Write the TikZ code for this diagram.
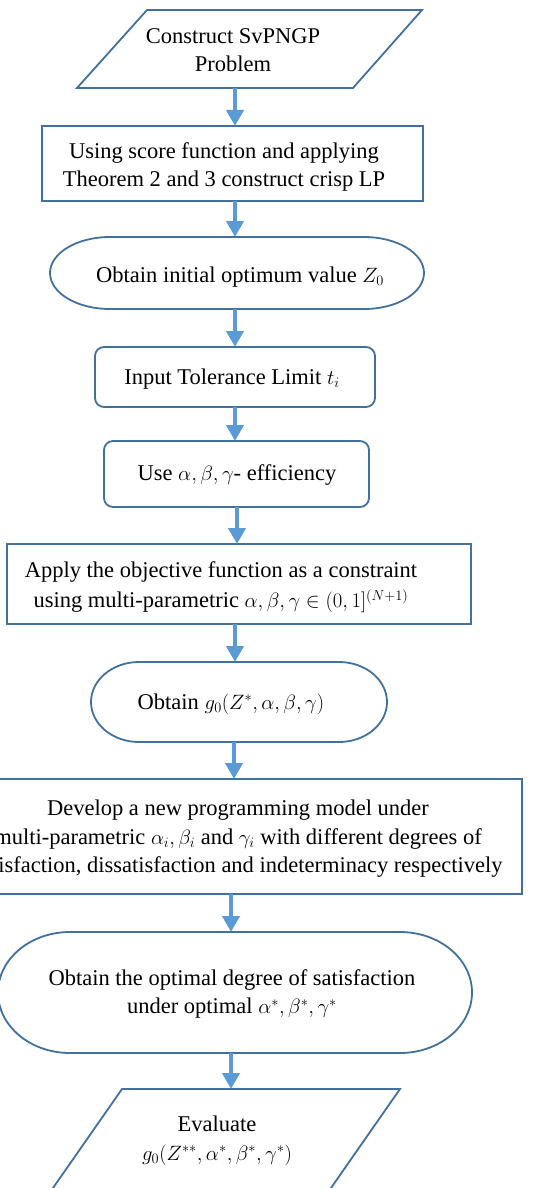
\documentclass[tikz,border=0pt]{standalone}
\usepackage{fontspec}
\setmainfont{Liberation Serif}
\usetikzlibrary{arrows.meta,calc}
\definecolor{outl}{HTML}{41719C}
\definecolor{arrc}{HTML}{5B9BD5}
\begin{document}
\begin{tikzpicture}[x=1pt,y=1pt,
  frame/.style={draw=none,inner sep=0pt,outer sep=0pt},
  box/.style={draw=outl,line width=1.8pt,inner sep=0pt,outer sep=0pt,fill=white},
  shp/.style={draw=outl,line width=1.8pt,fill=white,line join=miter},
  txt/.style={align=center,inner sep=0pt,font=\fontsize{22.5}{28.5}\selectfont},
  arr/.style={draw=arrc,line width=4.7pt,-{Triangle[width=17pt,length=16pt]}}]
\useasboundingbox (0,0) rectangle (555,-1188);
\clip (0,0) rectangle (555,-1188);
% arrow columns
\coordinate (a235) at (235,0);
\coordinate (a237) at (237,0);
\coordinate (a234) at (234,0);
\coordinate (a231) at (231,0);
% shapes
\node[frame,minimum width=345pt,minimum height=78pt] (p1) at (249.5,-49) {};
\draw[shp] ([xshift=70pt]p1.north west) -- (p1.north east) -- ([xshift=-69pt]p1.south east) -- (p1.south west) -- cycle;
\node[box,minimum width=381pt,minimum height=75pt] (r1) at (232.5,-163.5) {};
\node[frame,minimum width=374pt,minimum height=72pt] (t1) at (237,-273) {};
\draw[shp] ([xshift=60pt]t1.north west) -- ([xshift=-60pt]t1.north east) arc[start angle=90,end angle=-90,x radius=60pt,y radius=36pt] -- ([xshift=60pt]t1.south west) arc[start angle=270,end angle=90,x radius=60pt,y radius=36pt] -- cycle;
\node[box,rounded corners=9pt,minimum width=280pt,minimum height=60pt] (q1) at (235,-377) {};
\node[box,rounded corners=9pt,minimum width=265pt,minimum height=66pt] (q2) at (236.5,-474) {};
\node[box,minimum width=464pt,minimum height=80pt] (r2) at (239,-584) {};
\node[frame,minimum width=296pt,minimum height=80pt] (t2) at (239,-702) {};
\draw[shp] ([xshift=48pt]t2.north west) -- ([xshift=-48pt]t2.north east) arc[start angle=90,end angle=-90,x radius=48pt,y radius=40pt] -- ([xshift=48pt]t2.south west) arc[start angle=270,end angle=90,x radius=48pt,y radius=40pt] -- cycle;
\node[box,minimum width=568pt,minimum height=115pt] (r3) at (238,-836.5) {};
\node[frame,minimum width=474pt,minimum height=121pt] (t3) at (235,-992.5) {};
\draw[shp] ([xshift=72pt]t3.north west) -- ([xshift=-72pt]t3.north east) arc[start angle=90,end angle=-90,x radius=72pt,y radius=60.5pt] -- ([xshift=72pt]t3.south west) arc[start angle=270,end angle=90,x radius=72pt,y radius=60.5pt] -- cycle;
\node[frame,minimum width=355.4pt,minimum height=111pt] (p2) at (222.3,-1144.5) {};
\draw[shp] ([xshift=77.4pt]p2.north west) -- (p2.north east) -- ([xshift=-77.4pt]p2.south east) -- (p2.south west) -- cycle;
% texts
\node[txt] (l1) at (233,-50) {Construct SvPNGP\\Problem};
\node[txt] (l2) at (224,-167) {Using score function and applying\\Theorem 2 and 3 construct crisp LP};
\node[txt] (l3) at (240,-277) {Obtain initial optimum value $Z_0$};
\node[txt] (l4) at (232,-379) {Input Tolerance Limit $t_i$};
\node[txt] (l5) at (237,-475) {Use $\alpha,\beta,\gamma$- efficiency};
\node[txt] (l6) at (221,-587) {Apply the objective function as a constraint\\[2pt] using multi-parametric $\alpha,\beta,\gamma\in(0,1]^{(N+1)}$};
\node[txt] (l7) at (231,-704) {Obtain $g_0(Z^*,\alpha,\beta,\gamma)$};
\node[txt] (l8) at (238,-839) {Develop a new programming model under\\multi-parametric $\alpha_i,\beta_i$ and $\gamma_i$ with different degrees of\\satisfaction, dissatisfaction and indeterminacy respectively};
\node[txt] (l9) at (232,-994) {Obtain the optimal degree of satisfaction\\under optimal $\alpha^*,\beta^*,\gamma^*$};
\node[txt] (l10) at (217,-1141) {Evaluate\\$g_0(Z^{**},\alpha^*,\beta^*,\gamma^*)$};
% arrows
\draw[arr] (p1.south -| a235) -- (r1.north -| a235);
\draw[arr] (r1.south -| a235) -- (t1.north -| a235);
\draw[arr] (t1.south -| a235) -- (q1.north -| a235);
\draw[arr] (q1.south -| a235) -- (q2.north -| a235);
\draw[arr] (q2.south -| a237) -- (r2.north -| a237);
\draw[arr] (r2.south -| a235) -- (t2.north -| a235);
\draw[arr] (t2.south -| a234) -- (r3.north -| a234);
\draw[arr] (r3.south -| a231) -- (t3.north -| a231);
\draw[arr] (t3.south -| a231) -- (p2.north -| a231);
\end{tikzpicture}
\end{document}
